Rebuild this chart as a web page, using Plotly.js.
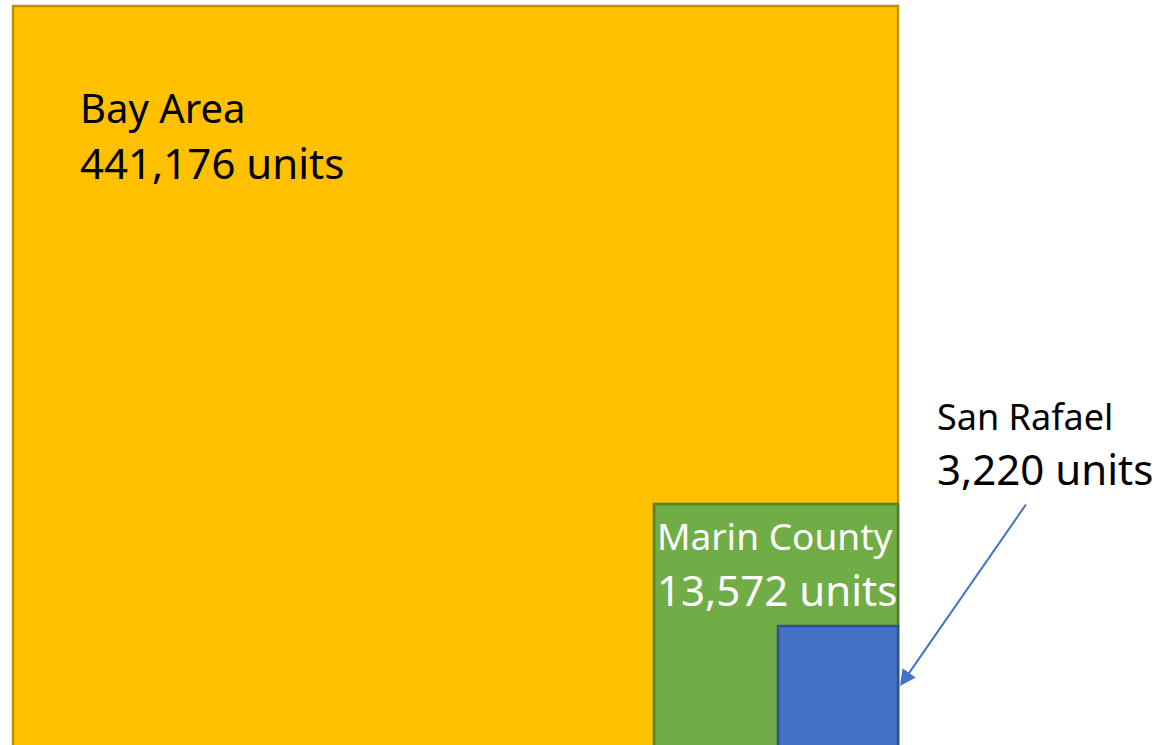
<!DOCTYPE html>
<html>
<head>
<meta charset="utf-8">
<script src="https://cdn.plot.ly/plotly-3.0.1.min.js"></script>
<style>
  html, body { margin: 0; padding: 0; background: #ffffff; }
  #chart { width: 1158px; height: 745px; }
</style>
</head>
<body>
<div id="chart"></div>
<script>
// ---- data ----
const regions = ['Bay Area', 'Marin County', 'San Rafael'];
const units = [441176, 13572, 3220];
const unitLabel = 'units';

// ---- layout geometry (pixel-space axes) ----
const boxes = [
  {x0: 13, y0: 6, x1: 898, y1: 760},
  {x0: 654, y0: 504, x1: 898, y1: 760},
  {x0: 778, y0: 626, x1: 898, y1: 760}
];
const fills = ['#FFC000', '#70AD47', '#4472C4'];
const borders = ['#BF9000', '#507E32', '#2F528F'];
const textColors = ['#000000', '#ffffff', '#000000'];
// label placement: [x, yLine1, yLine2, size1, size2]
const labelPos = [
  [78, 107, 162, 40, 42],
  [655, 535, 589, 37, 42],
  [935, 416, 468, 36, 42]
];
const FONT = 'Noto Sans, Open Sans, sans-serif';

const shapes = boxes.map((b, i) => ({
  type: 'rect', xref: 'x', yref: 'y',
  x0: b.x0, y0: b.y0, x1: b.x1, y1: b.y1,
  fillcolor: fills[i],
  line: {color: borders[i], width: 2.5},
  layer: 'above'
}));

const annotations = [];
regions.forEach((r, i) => {
  const p = labelPos[i];
  annotations.push({
    x: p[0], y: p[1], xref: 'x', yref: 'y', xanchor: 'left', yanchor: 'middle',
    text: r, showarrow: false,
    font: {family: FONT, size: p[3], color: textColors[i]}
  });
  annotations.push({
    x: p[0], y: p[2], xref: 'x', yref: 'y', xanchor: 'left', yanchor: 'middle',
    text: units[i].toLocaleString('en-US') + ' ' + unitLabel, showarrow: false,
    font: {family: FONT, size: p[4], color: textColors[i]}
  });
});
// arrow from San Rafael label to its square
annotations.push({
  x: 900, y: 686, xref: 'x', yref: 'y',
  ax: 1027, ay: 503, axref: 'x', ayref: 'y',
  text: '', showarrow: true,
  arrowhead: 2, arrowsize: 1.6, arrowwidth: 2, arrowcolor: '#4472C4',
  standoff: 0, startstandoff: 0
});

const layout = {
  width: 1158, height: 745,
  margin: {l: 0, r: 0, t: 0, b: 0},
  paper_bgcolor: '#ffffff', plot_bgcolor: '#ffffff',
  showlegend: false,
  xaxis: {range: [0, 1158], visible: false, fixedrange: true},
  yaxis: {range: [745, 0], visible: false, fixedrange: true},
  shapes: shapes,
  annotations: annotations
};

Plotly.newPlot('chart', [], layout, {displayModeBar: false, staticPlot: true});
</script>
</body>
</html>
